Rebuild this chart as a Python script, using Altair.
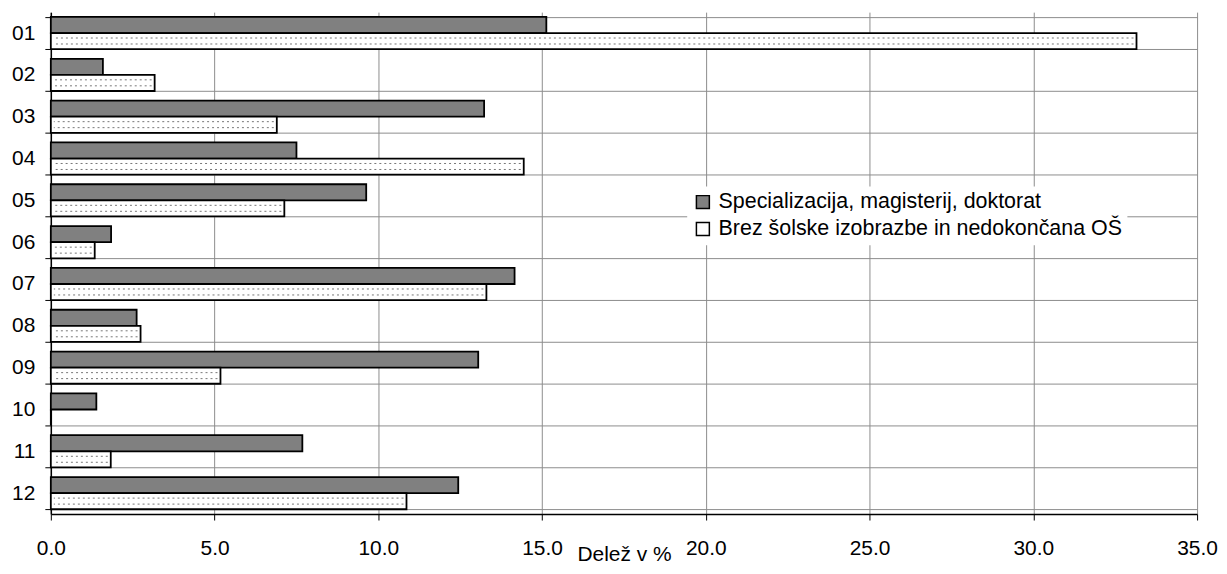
import altair as alt
import pandas as pd

cats = ["01", "02", "03", "04", "05", "06", "07", "08", "09", "10", "11", "12"]
s1 = "Specializacija, magisterij, doktorat"
s2 = "Brez šolske izobrazbe in nedokončana OŠ"
spec_vals = [15.13, 1.59, 13.23, 7.50, 9.63, 1.84, 14.16, 2.62, 13.05, 1.39, 7.68, 12.44]
brez_vals = [33.15, 3.17, 6.90, 14.44, 7.13, 1.34, 13.30, 2.74, 5.18, 0.0, 1.83, 10.86]
x_ticks = [0, 5, 10, 15, 20, 25, 30, 35]
x_title = "Delež v %"

df = pd.DataFrame({
    "cat": cats * 2,
    "series": [s1] * len(cats) + [s2] * len(cats),
    "val": spec_vals + brez_vals,
})

FONT = "Liberation Sans"
FS = 21
GRID = "#8c8c8c"

y_scale = alt.Scale(paddingInner=0.23, paddingOuter=0.115)
x_scale = alt.Scale(domain=[0, 35], nice=False)

bars = alt.Chart(df).mark_bar(stroke="black", strokeWidth=1.8).encode(
    x=alt.X("val:Q", scale=x_scale, title=x_title,
            axis=alt.Axis(values=x_ticks, format=".1f", grid=True, gridColor=GRID, gridWidth=1,
                          domainColor="black", domainWidth=1.5, tickColor="black", tickSize=6,
                          labelFontSize=FS, labelPadding=18, labelFlush=False, labelColor="black",
                          titleFontSize=FS, titleFontWeight="normal", titleBaseline="alphabetic",
                          titleY=47, titleColor="black")),
    y=alt.Y("cat:N", sort=cats, scale=y_scale, title=None,
            axis=alt.Axis(tickBand="extent", grid=True, gridColor=GRID, gridWidth=1,
                          domainColor="black", domainWidth=1.5, tickColor="black", tickSize=6,
                          labelFontSize=FS, labelPadding=10, labelColor="black")),
    yOffset=alt.YOffset("series:N", sort=[s1, s2], scale=alt.Scale(paddingInner=0, paddingOuter=0)),
    color=alt.Color("series:N", sort=[s1, s2],
                    scale=alt.Scale(domain=[s1, s2], range=["#808080", "#ffffff"]),
                    legend=alt.Legend(title=None, orient="none", legendX=639, legendY=175,
                                      labelFontSize=21.5, labelFont=FONT, labelColor="black",
                                      labelLimit=0, symbolType="square", symbolSize=169,
                                      symbolStrokeColor="black", symbolStrokeWidth=1.5,
                                      fillColor="white", padding=5, rowPadding=4, labelOffset=5)),
)


def dots(bp):
    return alt.Chart(df).transform_filter(
        f"datum.series == '{s2}' && datum.val > 0"
    ).mark_rule(color="#777777", strokeWidth=1, strokeDash=[2, 3], xOffset=-3, x2Offset=3).encode(
        x=alt.X("val:Q", scale=x_scale, title=x_title),
        x2=alt.datum(0),
        y=alt.Y("cat:N", sort=cats, scale=y_scale, title=None, bandPosition=bp),
    )


chart = alt.layer(bars, dots(0.654), dots(0.84)).properties(
    width=1151, height=504,
    padding={"left": 43, "top": 3, "right": 22, "bottom": 51},
    autosize=alt.AutoSizeParams(type="none"),
).configure_view(strokeWidth=0).configure_axis(labelFont=FONT, titleFont=FONT)

chart.save("out.html", embed_options={"renderer": "svg", "actions": False})
